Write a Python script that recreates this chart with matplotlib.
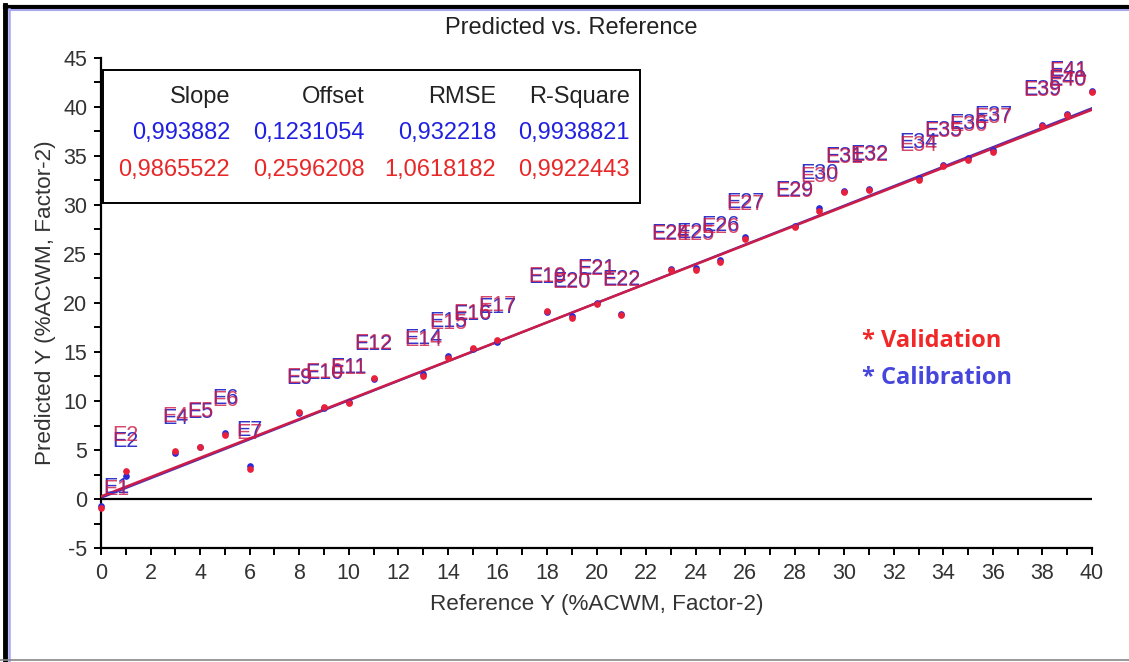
import numpy as np
import matplotlib
matplotlib.use("Agg")
import matplotlib.pyplot as plt
from matplotlib.lines import Line2D
from matplotlib.patches import Rectangle

plt.rcParams["font.family"] = ["Liberation Sans", "DejaVu Sans"]
plt.rcParams["axes.unicode_minus"] = False

# samples (reference vs predicted, calibration and validation)
labels = ["E1", "E2", "E4", "E5", "E6", "E7", "E9", "E10", "E11", "E12",
          "E14", "E15", "E16", "E17", "E19", "E20", "E21", "E22", "E24", "E25",
          "E26", "E27", "E29", "E30", "E31", "E32", "E34", "E35", "E36", "E37",
          "E39", "E40", "E41"]
ref_y = [0, 1, 3, 4, 5, 6, 8, 9, 10, 11,
         13, 14, 15, 16, 18, 19, 20, 21, 23, 24,
         25, 26, 28, 29, 30, 31, 33, 34, 35, 36,
         38, 39, 40]
pred_cal = [-0.7, 2.3, 4.7, 5.3, 6.7, 3.4, 8.8, 9.3, 9.9, 12.2,
            12.8, 14.6, 15.3, 16.0, 19.1, 18.7, 20.0, 18.9, 23.5, 23.6,
            24.4, 26.7, 27.9, 29.7, 31.4, 31.6, 32.8, 34.1, 34.8, 35.6,
            38.2, 39.3, 41.6]
pred_val = [-0.9, 2.9, 4.9, 5.35, 6.5, 3.1, 8.9, 9.4, 9.8, 12.3,
            12.6, 14.4, 15.4, 16.2, 19.2, 18.5, 19.9, 18.8, 23.4, 23.4,
            24.2, 26.5, 27.8, 29.4, 31.3, 31.5, 32.5, 34.0, 34.6, 35.4,
            38.1, 39.2, 41.5]

# regression statistics: calibration row, validation row
stat_names = ["Slope", "Offset", "RMSE", "R-Square"]
stats_cal = ["0,993882", "0,1231054", "0,932218", "0,9938821"]
stats_val = ["0,9865522", "0,2596208", "1,0618182", "0,9922443"]
slope_cal, offset_cal = 0.993882, 0.1231054
slope_val, offset_val = 0.9865522, 0.2596208

BLUE = "#2a2ad6"
RED = "#e8203a"

fig = plt.figure(figsize=(11.29, 6.62), dpi=100)
ax = fig.add_axes([0.0895, 0.1722, 0.8777, 0.7402])

xs = np.array([0, 40])
ax.plot(xs, slope_cal * xs + offset_cal, color="#5030b0", lw=1.6, zorder=2)
ax.plot(xs, slope_val * xs + offset_val, color="#cc1c48", lw=1.8, zorder=3)
ax.axhline(0, color="black", lw=1.6, zorder=1)

ax.plot(ref_y, pred_cal, "o", color=BLUE, ms=3.8, zorder=4, clip_on=False)
ax.plot(ref_y, pred_val, "o", color=RED, ms=3.8, zorder=5, clip_on=False)

# sample labels sit above their points; edge ones are pushed inside the frame
offsets = {"E1": (11, 13), "E41": (-17, 15)}
for name, x, yc, yv in zip(labels, ref_y, pred_cal, pred_val):
    off = offsets.get(name, (0, 25))
    ax.annotate(name, (x, yc), xytext=off, textcoords="offset points",
                ha="center", va="center", fontsize=15.5, color="#3434c8", zorder=6)
    ax.annotate(name, (x, yv), xytext=off, textcoords="offset points",
                ha="center", va="center", fontsize=15.5, color="#cc1a44",
                alpha=0.8, zorder=7)

ax.set_xlim(0, 40)
ax.set_ylim(-5, 45)
ax.set_xticks(np.arange(0, 41, 2))
ax.set_xticks(np.arange(0, 41, 1), minor=True)
ax.set_yticks(np.arange(-5, 46, 5))
ax.set_yticks(np.arange(-5, 46, 2.5), minor=True)
ax.tick_params(which="both", direction="out", length=5, width=1.4,
               colors="black", labelcolor="#333333", labelsize=15.5)
ax.tick_params(axis="x", pad=6)
ax.tick_params(axis="y", pad=5)
for side in ["top", "right"]:
    ax.spines[side].set_visible(False)
for side in ["left", "bottom"]:
    ax.spines[side].set_linewidth(1.6)

ax.set_xlabel("Reference Y (%ACWM, Factor-2)", fontsize=16.2, color="#333333", labelpad=7)
ax.set_ylabel("Predicted Y (%ACWM, Factor-2)", fontsize=16.2, color="#333333", labelpad=5)
fig.text(0.506, 0.958, "Predicted vs. Reference", fontsize=17, color="#222222",
         ha="center", va="center")

# statistics table
ax.add_patch(Rectangle((0.002, 0.704), 0.542, 0.272, transform=ax.transAxes,
                       facecolor="white", edgecolor="black", lw=1.4, zorder=8))
col_x = [0.1302, 0.2664, 0.3986, 0.5338]
for cx, name, sc, sv in zip(col_x, stat_names, stats_cal, stats_val):
    ax.text(cx, 0.9204, name, transform=ax.transAxes, ha="right", va="center",
            fontsize=17, color="#222222", zorder=9)
    ax.text(cx, 0.8469, sc, transform=ax.transAxes, ha="right", va="center",
            fontsize=17, color="#2020e0", zorder=9)
    ax.text(cx, 0.7714, sv, transform=ax.transAxes, ha="right", va="center",
            fontsize=17, color="#e82828", zorder=9)

fig.text(0.7635, 0.4849, "* Validation", fontsize=17, fontweight="bold",
         family=["Open Sans", "DejaVu Sans"], color="#f02828", ha="left", va="center")
fig.text(0.7635, 0.429, "* Calibration", fontsize=17, fontweight="bold",
         family=["Open Sans", "DejaVu Sans"], color="#4646dc", ha="left", va="center")

# outer frame
fig.add_artist(Line2D([0.004, 1.0], [0.9895, 0.9895], color="black", lw=3, transform=fig.transFigure))
fig.add_artist(Line2D([0.0045, 0.0045], [0.0, 0.992], color="black", lw=3.5, transform=fig.transFigure))
fig.add_artist(Line2D([0.008, 1.0], [0.9845, 0.9845], color="#a8a8f0", lw=1.5, transform=fig.transFigure))
fig.add_artist(Line2D([0.0078, 0.0078], [0.0, 0.986], color="#a8a8f0", lw=1.8, transform=fig.transFigure))
fig.add_artist(Line2D([0.0, 1.0], [0.003, 0.003], color="#888888", lw=1.2, transform=fig.transFigure))

fig.savefig("out.png", dpi=100)
plt.close(fig)
